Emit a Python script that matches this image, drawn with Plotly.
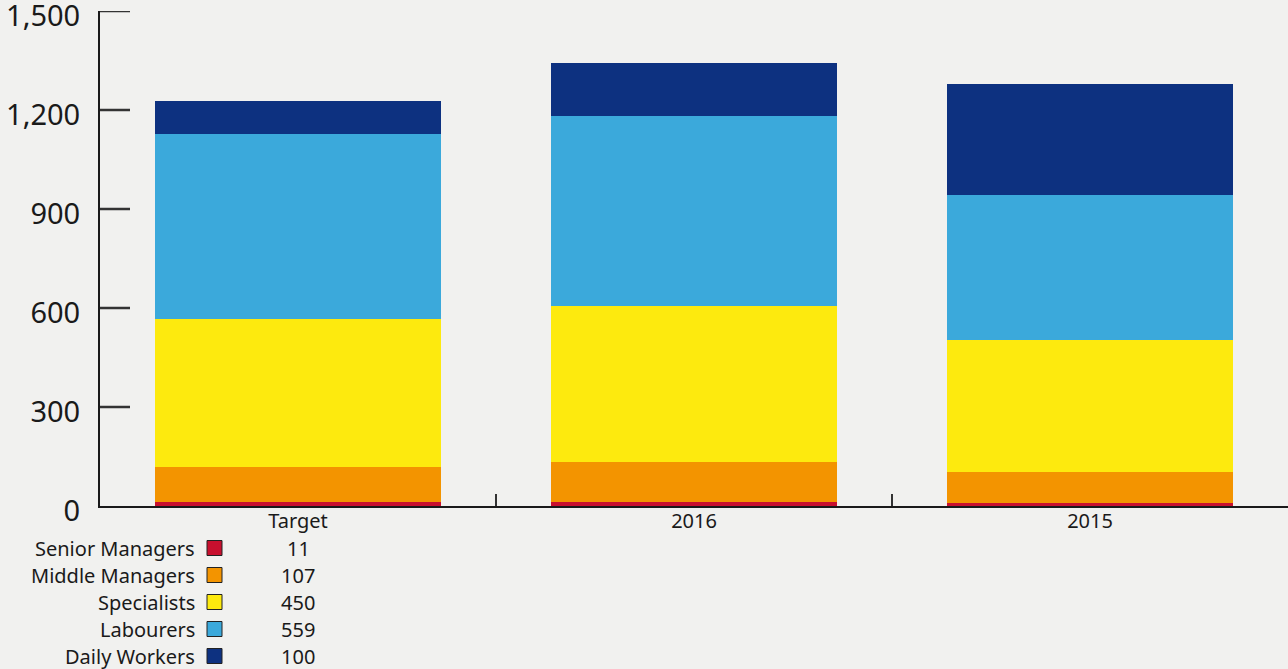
import plotly.graph_objects as go

categories = ["Target", "2016", "2015"]
series_names = ["Senior Managers", "Middle Managers", "Specialists", "Labourers", "Daily Workers"]
senior_managers = [11, 11, 8]
middle_managers = [107, 121, 96]
specialists = [450, 475, 400]
labourers = [559, 574, 437]
daily_workers = [100, 160, 339]
y_ticks = [0, 300, 600, 900, 1200, 1500]
y_tick_labels = ["0", "300", "600", "900", "1,200", "1,500"]

series_values = [senior_managers, middle_managers, specialists, labourers, daily_workers]
colors = ["#C8102E", "#F39400", "#FDEA0E", "#3BA9DB", "#0D3180"]

W, H = 1288, 669
ML, MR, MT, MB = 100, 0, 11, 163
PW, PH = W - ML - MR, H - MT - MB
FONT = "Noto Sans"
TXT = "#1a1a1a"
TICK_LEN = 30
CAT_PX = PW / len(categories)

fig = go.Figure()
for name, vals, c in zip(series_names, series_values, colors):
    fig.add_trace(go.Bar(x=categories, y=vals, name=name, marker=dict(color=c, line=dict(width=0)),
                         width=0.72, showlegend=False, hoverinfo="x+y+name"))

def py(pix):
    return (H - MB - pix) / PH

row_y = [548, 575, 602, 629, 656]
annotations = []
shapes = []
for i, (name, vals, c) in enumerate(zip(series_names, series_values, colors)):
    yp = py(row_y[i])
    annotations.append(dict(x=(197 - ML) / PW, y=yp, xref="paper", yref="paper", text=name,
                            showarrow=False, xanchor="right", yanchor="middle",
                            font=dict(family=FONT, size=20, color=TXT)))
    shapes.append(dict(type="rect", xref="paper", yref="paper",
                       x0=(207 - ML) / PW, x1=(222 - ML) / PW,
                       y0=py(row_y[i] + 7.5), y1=py(row_y[i] - 7.5),
                       fillcolor=c, line=dict(color="#222222", width=1)))
    for cat, v in zip(categories, vals):
        annotations.append(dict(x=cat, y=yp, xref="x", yref="paper", text=str(v),
                                showarrow=False, xanchor="center", yanchor="middle",
                                font=dict(family=FONT, size=20, color=TXT)))

# inward y tick marks, positioned from the axes' scales
for t in y_ticks[1:]:
    shapes.append(dict(type="line", xref="x", yref="y", x0=-0.5, x1=-0.5 + TICK_LEN / CAT_PX,
                       y0=t, y1=t, line=dict(color="#333333", width=2.5), layer="above"))

fig.update_layout(
    barmode="stack",
    width=W, height=H,
    margin=dict(l=ML, r=MR, t=MT, b=MB, pad=0, autoexpand=False),
    paper_bgcolor="#f1f1ef",
    plot_bgcolor="rgba(0,0,0,0)",
    font=dict(family=FONT, color=TXT),
    annotations=annotations,
    shapes=shapes,
)
fig.update_xaxes(range=[-0.5, 2.5], showgrid=False, showline=True, linecolor="#1a1a1a", linewidth=1.5,
                 ticks="inside", tickson="boundaries", ticklen=12, tickcolor="#333333", tickwidth=1.5,
                 tickfont=dict(family=FONT, size=20, color=TXT), automargin=False,
                 ticklabelstandoff=-4)
fig.update_yaxes(range=[0, 1500], showgrid=False, showline=True, linecolor="#1a1a1a", linewidth=2,
                 tickvals=y_ticks, ticktext=y_tick_labels, ticks="", zeroline=False,
                 automargin=False, ticklabeloverflow="allow",
                 tickfont=dict(family=FONT, size=29, color=TXT), ticklabelstandoff=12,
                 ticklabelshift=5)

fig.write_html("out.html", config={"displayModeBar": False},
               post_script="document.body.style.margin='0';document.body.style.padding='0';")
